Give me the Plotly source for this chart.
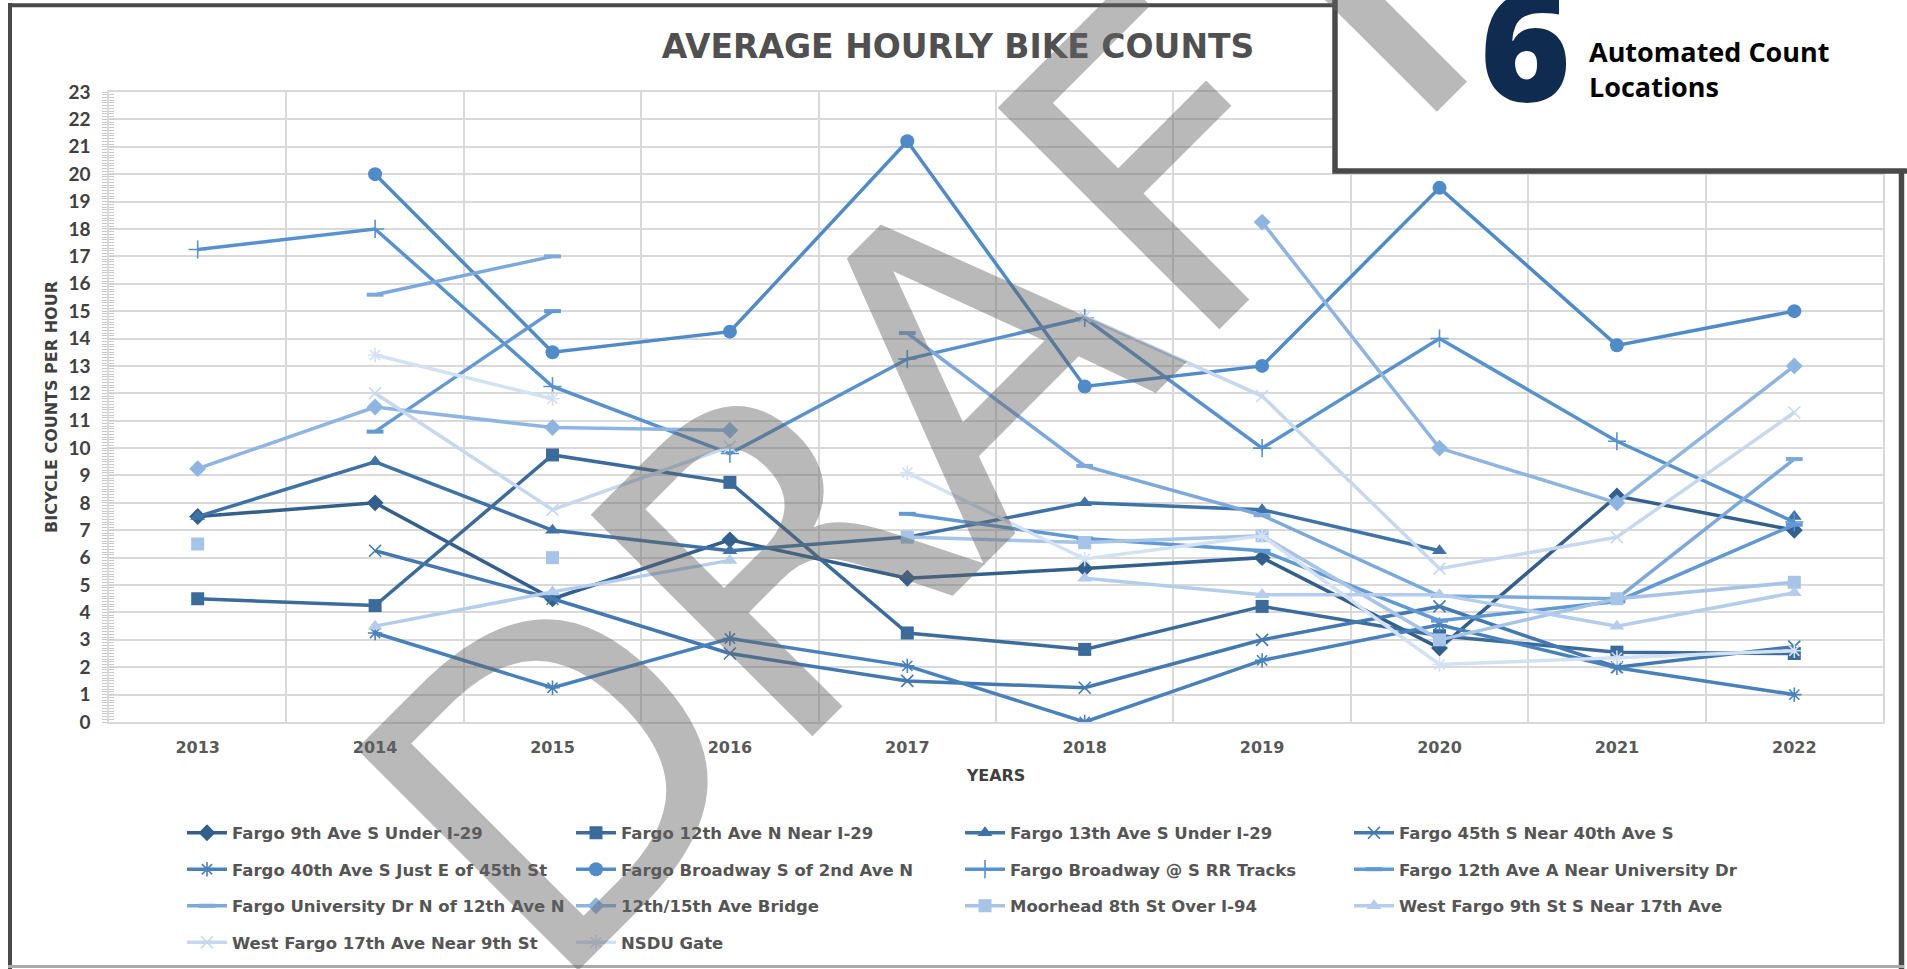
import plotly.graph_objects as go

# ---- data -------------------------------------------------------------
years = [2013, 2014, 2015, 2016, 2017, 2018, 2019, 2020, 2021, 2022]

locations = [
    "Fargo 9th Ave S Under I-29",
    "Fargo 12th Ave N Near I-29",
    "Fargo 13th Ave S Under I-29",
    "Fargo 45th S Near 40th Ave S",
    "Fargo 40th Ave S Just E of 45th St",
    "Fargo Broadway S of 2nd Ave N",
    "Fargo Broadway @ S RR Tracks",
    "Fargo 12th Ave A Near University Dr",
    "Fargo University Dr N of 12th Ave N",
    "12th/15th Ave Bridge",
    "Moorhead 8th St Over I-94",
    "West Fargo 9th St S Near 17th Ave",
    "West Fargo 17th Ave Near 9th St",
    "NSDU Gate",
]

fargo_9th_ave_s = [7.5, 8.0, 4.5, 6.65, 5.25, 5.6, 6.0, 2.7, 8.25, 7.0]
fargo_12th_ave_n = [4.5, 4.25, 9.75, 8.75, 3.25, 2.65, 4.22, 3.15, 2.55, 2.5]
fargo_13th_ave_s = [7.5, 9.5, 7.0, 6.25, 6.75, 8.0, 7.75, 6.25, None, 7.5]
fargo_45th_s = [None, 6.25, 4.5, 2.5, 1.5, 1.25, 3.0, 4.22, 2.0, 2.75]
fargo_40th_ave_s = [None, 3.25, 1.25, 3.05, 2.05, 0.0, 2.25, 3.55, 1.98, 1.0]
broadway_2nd_ave = [None, 20.0, 13.5, 14.25, 21.2, 12.25, 13.0, 19.5, 13.75, 15.0]
broadway_rr = [17.25, 18.0, 12.25, 9.8, 13.25, 14.75, 10.0, 14.0, 10.25, 7.3]
ave_12a_university = [None, 10.6, 15.0, None, 7.6, 6.7, 6.25, 3.7, 4.4, 7.2]
university_dr_n = [None, 15.6, 17.0, None, 14.2, 9.35, 7.55, 4.6, 4.5, 9.6]
bridge_12_15 = [9.25, 11.5, 10.75, 10.65, None, None, 18.25, 10.0, 8.0, 13.0]
moorhead_8th = [6.5, None, 6.0, None, 6.75, 6.55, 6.8, 3.0, 4.5, 5.1]
wf_9th_st = [None, 3.5, 4.75, 5.9, None, 5.25, 4.65, 4.65, 3.5, 4.72]
wf_17th_ave = [None, 12.0, 7.75, 10.05, None, 14.8, 11.9, 5.6, 6.75, 11.3]
nsdu_gate = [None, 13.4, 11.8, None, 9.1, 5.95, 6.8, 2.1, 2.35, 2.6]

series = [fargo_9th_ave_s, fargo_12th_ave_n, fargo_13th_ave_s, fargo_45th_s,
          fargo_40th_ave_s, broadway_2nd_ave, broadway_rr, ave_12a_university,
          university_dr_n, bridge_12_15, moorhead_8th, wf_9th_st, wf_17th_ave,
          nsdu_gate]

y_ticks = list(range(0, 24))

# ---- styling ----------------------------------------------------------
colors = ["#335f8c", "#3a6b9b", "#3f73a7", "#4379b0", "#4881bc", "#4f8bc8",
          "#5792ce", "#6099d3", "#7ba9dc", "#8eb5e2", "#a6c3e8", "#b5cdec",
          "#c6d8f0", "#d3e1f4"]
symbols = ["diamond", "square", "triangle-up", "x-thin", "asterisk", "circle",
           "cross-thin", "line-ew", "line-ew", "diamond", "square",
           "triangle-up", "x-thin", "asterisk"]
sizes = [13, 13, 13, 12, 12, 14, 13, 12, 12, 13, 13, 13, 12, 12]
open_symbols = {"x-thin", "asterisk", "cross-thin", "line-ew"}

W, H = 1907, 969
PL, PT, PW, PH = 109, 92, 1774, 630


def pxx(x):
    return (x - PL) / PW


def pxy(y):
    return (PT + PH - y) / PH


fig = go.Figure()

for i, (name, vals) in enumerate(zip(locations, series)):
    sym = symbols[i]
    if sym in open_symbols:
        lw = 4 if sym == "line-ew" else 1.6
        marker = dict(symbol=sym, size=sizes[i], color=colors[i],
                      line=dict(color=colors[i], width=lw))
    else:
        marker = dict(symbol=sym, size=sizes[i], color=colors[i],
                      line=dict(width=0))
    fig.add_trace(go.Scatter(
        x=years, y=vals, name=name, mode="lines+markers",
        line=dict(color=colors[i], width=3.5),
        marker=marker, connectgaps=False,
        legend=["legend", "legend2", "legend3", "legend4"][i // 4],
    ))

# second y axis only carries the inner half of the tick marks
fig.add_trace(go.Scatter(x=[2013], y=[0], yaxis="y2", mode="markers",
                         marker=dict(opacity=0), showlegend=False,
                         hoverinfo="skip"))

grid = "#d9d9d9"
tickc = "#c9c9c9"
label_grey = "#404040"

legend_font = dict(family="DejaVu Sans", size=16.5, color="#555555", weight="bold")
row_y = [833, 869.5, 906, 942.5]
legend_common = dict(orientation="h", entrywidth=334, entrywidthmode="pixels",
                     itemwidth=40, font=legend_font, bgcolor="rgba(0,0,0,0)",
                     xanchor="left", yanchor="middle", x=pxx(182),
                     itemclick=False, itemdoubleclick=False)

fig.update_layout(
    width=W, height=H,
    paper_bgcolor="white", plot_bgcolor="white",
    margin=dict(l=PL, r=W - PL - PW, t=PT, b=H - PT - PH, autoexpand=False),
    title=dict(text="AVERAGE HOURLY BIKE COUNTS", x=958 / W, xanchor="center",
               y=1 - 46 / H, yanchor="middle",
               font=dict(family="DejaVu Sans", size=33, color="#505050",
                         weight="bold")),
    xaxis=dict(range=[2012.5, 2022.5], tickvals=years, ticktext=[str(y) for y in years],
               showgrid=False, zeroline=False, ticks="",
               showline=True, linecolor=grid, linewidth=1.5, mirror=True,
               tickfont=dict(family="DejaVu Sans", size=16, color="#595959",
                             weight="bold"),
               ticklabelstandoff=10,
               minor=dict(tickvals=[y + 0.5 for y in [2012] + years],
                          showgrid=True, gridcolor=grid, gridwidth=1.5, ticks=""),
               title=dict(text="YEARS", standoff=14,
                          font=dict(family="DejaVu Sans", size=16,
                                    color="#404040", weight="bold"))),
    yaxis=dict(range=[0, 23], tickvals=y_ticks, showgrid=True, gridcolor=grid,
               gridwidth=1.5, zeroline=False,
               showline=True, linecolor=grid, linewidth=1.5, mirror=True,
               ticks="outside", ticklen=5, tickcolor=tickc, tickwidth=1,
               minor=dict(dtick=0.1, ticks="outside", ticklen=5,
                          tickcolor=tickc, tickwidth=1, showgrid=False),
               tickfont=dict(family="Lato", size=19, color=label_grey,
                             weight="bold"),
               ticklabelstandoff=8,
               title=dict(text="BICYCLE COUNTS PER HOUR", standoff=7,
                          font=dict(family="DejaVu Sans", size=16,
                                    color="#404040", weight="bold"))),
    yaxis2=dict(range=[0, 23], overlaying="y", side="left", showgrid=False,
                zeroline=False, showticklabels=False, tickvals=y_ticks,
                ticks="inside", ticklen=5, tickcolor=tickc, tickwidth=1,
                minor=dict(dtick=0.1, ticks="inside", ticklen=5,
                           tickcolor=tickc, tickwidth=1, showgrid=False)),
    legend=dict(legend_common, y=pxy(row_y[0])),
    legend2=dict(legend_common, y=pxy(row_y[1])),
    legend3=dict(legend_common, y=pxy(row_y[2])),
    legend4=dict(legend_common, y=pxy(row_y[3])),
    showlegend=True,
)

frame = "#4a4a4a"
shapes = [
    # outer frame
    dict(type="line", x0=pxx(10), x1=pxx(10), y0=pxy(3), y1=pxy(969)),
    dict(type="line", x0=pxx(8), x1=pxx(1336), y0=pxy(5.3), y1=pxy(5.3)),
    dict(type="line", x0=pxx(1901.5), x1=pxx(1901.5), y0=pxy(168), y1=pxy(969),
         width=5.5),
    # header box in the corner
    dict(type="rect", x0=pxx(1335), x1=pxx(1915), y0=pxy(-10), y1=pxy(171),
         fillcolor="white", width=5.5),
]
shape_objs = []
for s in shapes:
    w = s.pop("width", 4)
    base = dict(xref="paper", yref="paper", layer="above",
                line=dict(color=frame, width=w))
    base.update(s)
    shape_objs.append(base)
shape_objs.append(dict(type="line", xref="paper", yref="paper", layer="above",
                       x0=pxx(8), x1=pxx(1904), y0=pxy(966.5), y1=pxy(966.5),
                       line=dict(color="#aaaaaa", width=3)))
fig.update_layout(shapes=shape_objs)

annotations = [
    dict(text="6", x=pxx(1525), y=pxy(40), xanchor="center", yanchor="middle",
         showarrow=False,
         font=dict(family="Open Sans", size=155, color="#0f2b50", weight=800)),
    dict(text="Automated Count<br>Locations", x=pxx(1587), y=pxy(69),
         xanchor="left", yanchor="middle", align="left", showarrow=False,
         font=dict(family="Open Sans", size=27, color="#000000", weight="bold")),
    dict(text="DRAFT", x=pxx(943), y=pxy(395), xanchor="center",
         yanchor="middle", textangle=-45, showarrow=False,
         font=dict(family="DejaVu Sans", size=430,
                   color="rgba(100,100,100,0.45)")),
]
for a in annotations:
    a.update(xref="paper", yref="paper")
fig.update_layout(annotations=annotations)

fig.write_html("out.html")
